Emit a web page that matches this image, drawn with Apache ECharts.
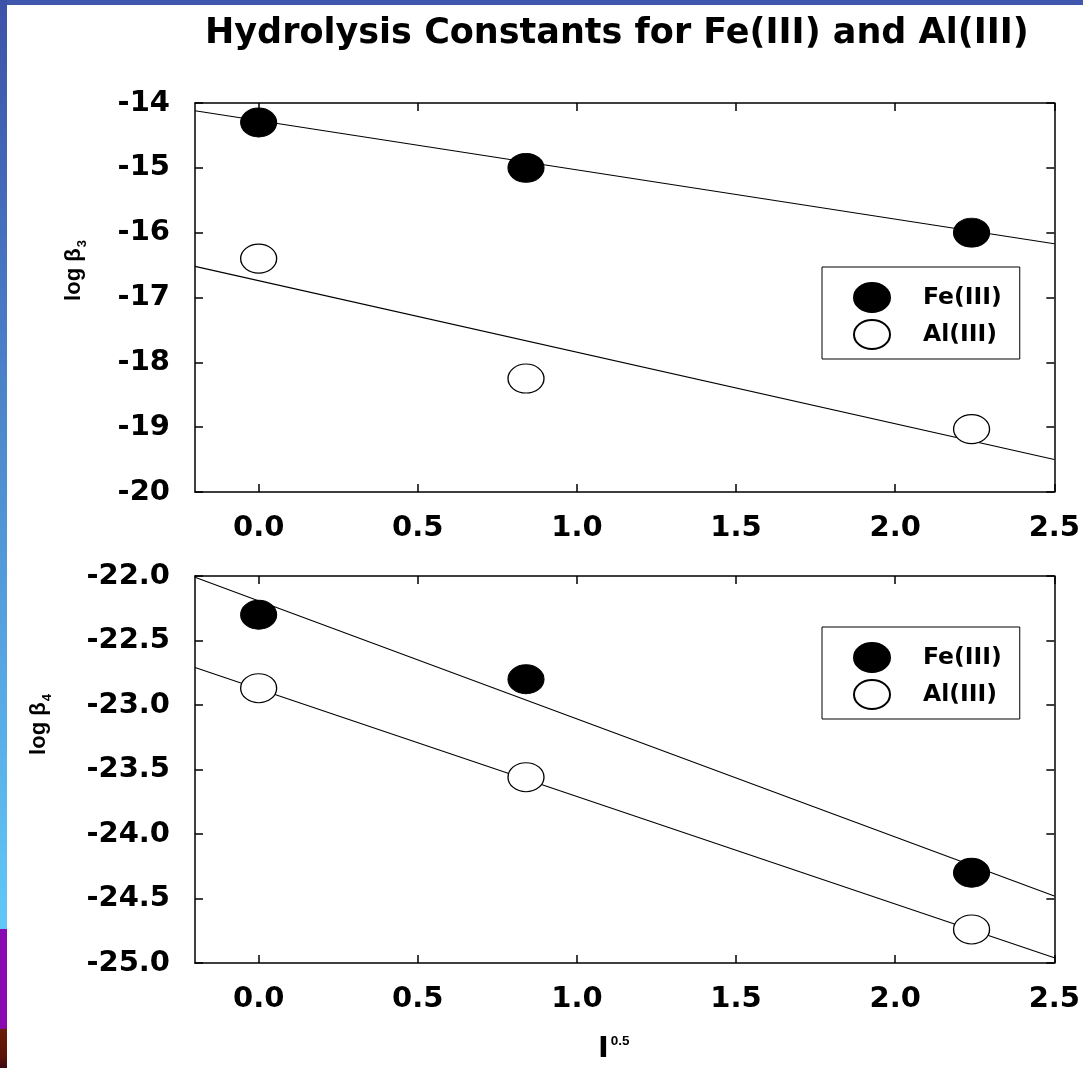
<!DOCTYPE html>
<html>
<head>
<meta charset="utf-8">
<script src="https://cdn.jsdelivr.net/npm/echarts@6/dist/echarts.min.js"></script>
<style>
html,body{margin:0;padding:0;background:#fff;}
#chart{width:1083px;height:1068px;}
</style>
</head>
<body>
<div id="chart"></div>
<script>
// ---- data ----
const titleText = 'Hydrolysis Constants for Fe(III) and Al(III)';
const seriesNames = ['Fe(III)', 'Al(III)'];
const sqrtI = [0, 0.84, 2.24];                 // I^0.5
const feLogBeta3 = [-14.3, -15.0, -16.0];
const alLogBeta3 = [-16.4, -18.25, -19.03];
const feLogBeta4 = [-22.3, -22.8, -24.3];
const alLogBeta4 = [-22.87, -23.56, -24.74];
// fitted straight lines (end values read at the plot edges)
const fitX = [-0.2, 2.5];
const feFit3 = [-14.12, -16.17];
const alFit3 = [-16.52, -19.50];
const feFit4 = [-22.01, -24.48];
const alFit4 = [-22.71, -24.96];
// tick labels
const xTicks = [0.0, 0.5, 1.0, 1.5, 2.0, 2.5];
const yTicks3 = [-20, -19, -18, -17, -16, -15, -14];
const yTicks4 = [-25.0, -24.5, -24.0, -23.5, -23.0, -22.5, -22.0];

const pairs = (xs, ys) => xs.map((x, i) => [x, ys[i]]);

const FONT = 'DejaVu Sans';
const frame = { show: true, onZero: false, lineStyle: { color: '#000', width: 1.5 } };
const tickIn = (vals) => ({ show: true, inside: true, length: 8, lineStyle: { color: '#000', width: 1.5 }, customValues: vals });
const labelStyle = { color: '#000', fontFamily: FONT, fontWeight: 'bold', fontSize: 29 };

function xAxes(grid, withName) {
  return [
    {
      type: 'value', gridIndex: grid, position: 'bottom', min: -0.2, max: 2.5,
      axisLine: frame, axisTick: tickIn(xTicks), splitLine: { show: false },
      axisLabel: Object.assign({ margin: 22, customValues: xTicks, formatter: v => v.toFixed(1) }, labelStyle),
      name: withName ? '{a|I}{b|0.5}' : '',
      nameLocation: 'middle', nameGap: 71,
      nameTextStyle: {
        padding: [0, 22, 0, 0],
        rich: {
          a: { fontFamily: FONT, fontWeight: 'bold', fontSize: 29, color: '#000', verticalAlign: 'bottom', lineHeight: 30 },
          b: { fontFamily: 'Liberation Sans', fontWeight: 'bold', fontSize: 13.5, color: '#000', verticalAlign: 'top', lineHeight: 13, padding: [0, 0, 0, 2] }
        }
      }
    },
    {
      type: 'value', gridIndex: grid, position: 'top', min: -0.2, max: 2.5,
      axisLine: frame, axisTick: tickIn(xTicks), axisLabel: { show: false }, splitLine: { show: false }
    }
  ];
}

function yAxes(grid, ticks, sub, gap, dec, shift) {
  return [
    {
      type: 'value', gridIndex: grid, position: 'left', min: ticks[0], max: ticks[ticks.length - 1],
      axisLine: frame, axisTick: tickIn(ticks), splitLine: { show: false },
      axisLabel: Object.assign({ margin: 25, customValues: ticks, formatter: v => v.toFixed(dec) }, labelStyle),
      name: '{a|log β}{b|' + sub + '}', nameLocation: 'middle', nameRotate: 90, nameGap: gap,
      nameTextStyle: {
        padding: [0, 0, 0, shift],
        rich: {
          a: { fontFamily: 'Liberation Sans', fontWeight: 'bold', fontSize: 22, color: '#000', lineHeight: 24, verticalAlign: 'bottom' },
          b: { fontFamily: 'Liberation Sans', fontWeight: 'bold', fontSize: 13, color: '#000', lineHeight: 13, verticalAlign: 'bottom', padding: [0, 0, -4, 1] }
        }
      }
    },
    {
      type: 'value', gridIndex: grid, position: 'right', min: ticks[0], max: ticks[ticks.length - 1],
      axisLine: frame, axisTick: tickIn(ticks), axisLabel: { show: false }, splitLine: { show: false }
    }
  ];
}

const ellipseIcon = 'path://M1,0A1,1,0,1,1,-1,0A1,1,0,1,1,1,0Z';
const feStyle = { color: '#000', borderColor: '#000', borderWidth: 1, opacity: 1 };
const alStyle = { color: '#fff', borderColor: '#000', borderWidth: 1.2, opacity: 1 };

function scatter(name, grid, ys, style) {
  return {
    type: 'scatter', name: name, xAxisIndex: grid * 2, yAxisIndex: grid * 2,
    data: pairs(sqrtI, ys), symbol: 'circle', symbolSize: [36, 29],
    itemStyle: style, z: 5, silent: true, emphasis: { disabled: true }
  };
}
function fitLine(grid, ys) {
  return {
    type: 'line', name: 'fit', xAxisIndex: grid * 2, yAxisIndex: grid * 2,
    data: pairs(fitX, ys), showSymbol: false, symbol: 'none', z: 2, silent: true,
    lineStyle: { color: '#000', width: 1.1 }, clip: true
  };
}

function legend(top) {
  return {
    show: true, orient: 'vertical', left: 822, top: top,
    data: seriesNames.map(n => ({ name: n, icon: ellipseIcon })),
    symbolKeepAspect: false,
    itemWidth: 36, itemHeight: 29, itemGap: 6,
    padding: [15, 18, 9, 31],
    borderColor: '#000', borderWidth: 1, backgroundColor: '#fff',
    selectedMode: false,
    textStyle: { fontFamily: FONT, fontWeight: 'bold', fontSize: 23.5, color: '#000', padding: [0, 0, 0, 28] }
  };
}

const chart = echarts.init(document.getElementById('chart'), null, { renderer: 'canvas' });
chart.setOption({
  animation: false,
  backgroundColor: '#fff',
  title: {
    text: titleText, left: 205, top: 16, padding: 0,
    textStyle: { fontFamily: FONT, fontWeight: 'bold', fontSize: 35, color: '#000' }
  },
  graphic: [
    { type: 'rect', left: 0, top: 0, shape: { width: 1083, height: 5 }, style: { fill: '#3f58ae' }, silent: true },
    {
      type: 'rect', left: 0, top: 0, shape: { width: 7, height: 1068 }, silent: true,
      style: {
        fill: new echarts.graphic.LinearGradient(0, 0, 0, 1, [
          { offset: 0, color: '#3c52a8' },
          { offset: 0.87, color: '#60c8f8' },
          { offset: 0.8701, color: '#8a0ab2' },
          { offset: 0.963, color: '#8a0ab2' },
          { offset: 0.9631, color: '#6b1e06' },
          { offset: 0.99, color: '#5a1208' },
          { offset: 1, color: '#3a0a12' }
        ])
      }
    }
  ],
  legend: [legend(267), legend(627)],
  grid: [
    { left: 195, top: 103, width: 861, height: 389 },
    { left: 195, top: 576, width: 861, height: 387 }
  ],
  xAxis: [].concat(xAxes(0, false), xAxes(1, true)),
  yAxis: [].concat(yAxes(0, yTicks3, '3', 110, 0, 54), yAxes(1, yTicks4, '4', 145, 1, 90)),
  series: [
    fitLine(0, feFit3), fitLine(0, alFit3),
    scatter(seriesNames[0], 0, feLogBeta3, feStyle),
    scatter(seriesNames[1], 0, alLogBeta3, alStyle),
    fitLine(1, feFit4), fitLine(1, alFit4),
    scatter(seriesNames[0], 1, feLogBeta4, feStyle),
    scatter(seriesNames[1], 1, alLogBeta4, alStyle)
  ]
});
</script>
</body>
</html>
